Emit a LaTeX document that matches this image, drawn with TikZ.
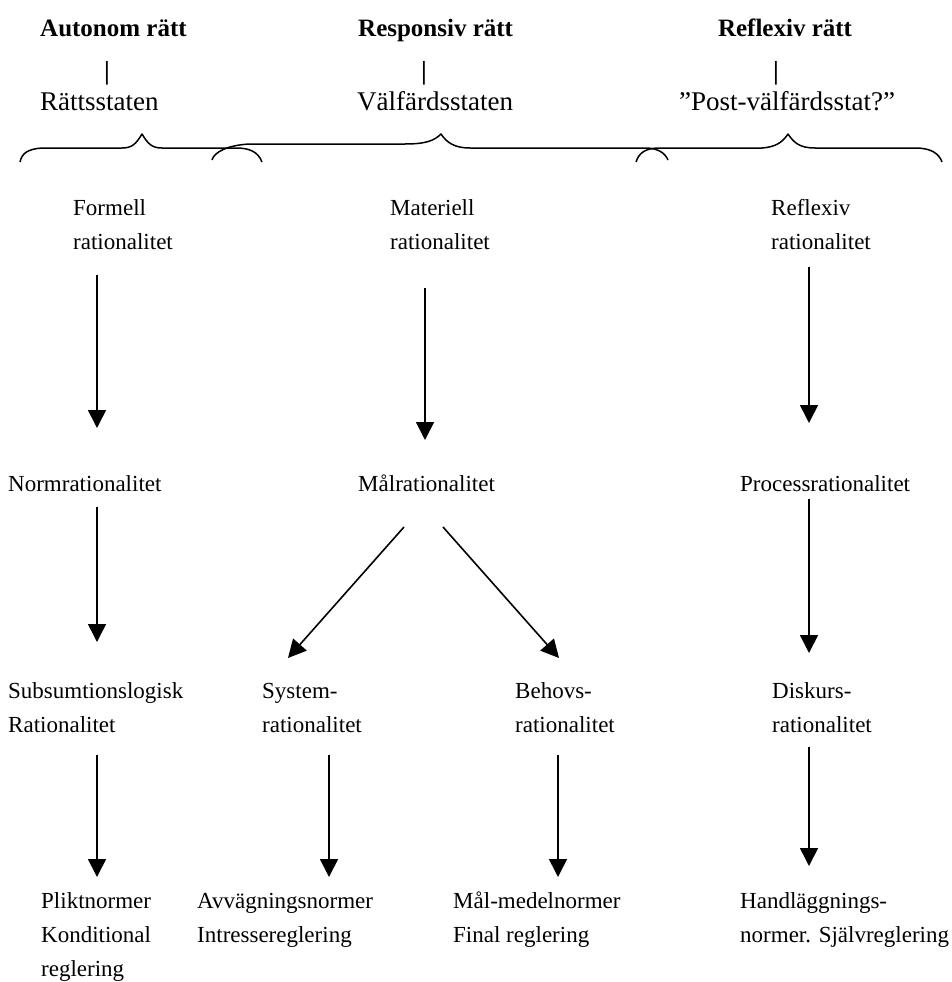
\documentclass[tikz,border=0pt]{standalone}
\usepackage{fontspec}
\setmainfont{Liberation Serif}
\usetikzlibrary{arrows.meta}
\tikzset{
  lbl/.style={anchor=base west, inner sep=0pt, font=\fontsize{23}{34}\selectfont, align=left},
  head/.style={inner sep=0pt, font=\fontsize{25}{28}\selectfont\bfseries},
  sub/.style={inner sep=0pt, font=\fontsize{27}{32}\selectfont},
  bar/.style={anchor=base, inner sep=0pt, font=\fontsize{26}{30}\selectfont\bfseries},
  arr/.style={line width=1.6pt, -{Triangle[width=18pt,length=18pt]}},
  brace/.style={line width=1.5pt, line join=round}
}
\begin{document}
\begin{tikzpicture}[x=1pt,y=-1pt]
\useasboundingbox (0,0) rectangle (952,982);

% top headings
\node[head, anchor=base west] (h1) at (40,37)  {Autonom rätt};
\node[bar]                    (p1) at (107,80) {|};
\node[sub,  anchor=base west] (s1) at (40,110) {Rättsstaten};
\node[head, anchor=base west] (h2) at (358,37) {Responsiv rätt};
\node[bar]                    (p2) at (424,80) {|};
\node[sub,  anchor=base west] (s2) at (357,110) {Välfärdsstaten};
\node[head, anchor=base]      (h3) at (785,37) {Reflexiv rätt};
\node[bar]                    (p3) at (776,80) {|};
\node[sub,  anchor=base]      (s3) at (787,110) {”Post-välfärdsstat?”};

% braces
\draw[brace] (20,162) .. controls (22,153) and (28,149) .. (42,148) -- (122,148)
  .. controls (132,148) and (136,144) .. (142,134)
  .. controls (148,144) and (152,148) .. (162,148) -- (236,148)
  .. controls (250,148) and (258,152) .. (262,162);
\draw[brace] (212,160) .. controls (214,152) and (228,145) .. (250,144) -- (405,144)
  .. controls (425,144) and (434,141) .. (441,134)
  .. controls (447,143) and (455,148) .. (470,148) -- (645,148)
  .. controls (658,148) and (665,153) .. (668,160);
\draw[brace] (636,162) .. controls (639,153) and (645,148) .. (660,148) -- (762,148)
  .. controls (775,147) and (782,143) .. (788,134)
  .. controls (794,143) and (800,148) .. (815,148) -- (915,148)
  .. controls (932,148) and (939,154) .. (942,162);

% body labels (anchor = baseline of the last line)
\node[lbl] (formell)   at (73,249)  {Formell\\rationalitet};
\node[lbl] (materiell) at (390,249) {Materiell\\rationalitet};
\node[lbl] (reflexiv)  at (771,249) {Reflexiv\\rationalitet};
\node[lbl] (norm)      at (8,491)   {Normrationalitet};
\node[lbl] (mal)       at (358,491) {Målrationalitet};
\node[lbl] (process)   at (740,491) {Processrationalitet};
\node[lbl] (subsum)    at (8,732)   {Subsumtionslogisk\\Rationalitet};
\node[lbl] (system)    at (262,732) {System-\\rationalitet};
\node[lbl] (behovs)    at (515,732) {Behovs-\\rationalitet};
\node[lbl] (diskurs)   at (772,732) {Diskurs-\\rationalitet};
\node[lbl] (plikt)     at (41,976)  {Pliktnormer\\Konditional\\reglering};
\node[lbl] (avvag)     at (197,942) {Avvägningsnormer\\Intressereglering};
\node[lbl] (malmedel)  at (453,942) {Mål-medelnormer\\Final reglering};
\node[lbl] (handl)     at (740,942) {Handläggnings-\\normer. Självreglering};

% connector end points
\coordinate (formell-o)  at (97,275);  \coordinate (norm-i)     at (97,428);
\coordinate (materiell-o) at (425,288); \coordinate (mal-i)      at (425,440);
\coordinate (reflexiv-o) at (809,267); \coordinate (process-i)  at (809,423);
\coordinate (norm-o)     at (97,507);  \coordinate (subsum-i)   at (97,642);
\coordinate (mal-ol)     at (404,527); \coordinate (system-i)   at (288,658);
\coordinate (mal-or)     at (443,527); \coordinate (behovs-i)   at (559,658);
\coordinate (process-o)  at (809,499); \coordinate (diskurs-i)  at (809,653);
\coordinate (subsum-o)   at (97,755);  \coordinate (plikt-i)    at (97,877);
\coordinate (system-o)   at (329,755); \coordinate (avvag-i)    at (329,877);
\coordinate (behovs-o)   at (558,755); \coordinate (malmedel-i) at (558,877);
\coordinate (diskurs-o)  at (809,747); \coordinate (handl-i)    at (809,866);

\draw[arr] (formell-o) -- (norm-i);
\draw[arr] (materiell-o) -- (mal-i);
\draw[arr] (reflexiv-o) -- (process-i);
\draw[arr] (norm-o) -- (subsum-i);
\draw[arr] (mal-ol) -- (system-i);
\draw[arr] (mal-or) -- (behovs-i);
\draw[arr] (process-o) -- (diskurs-i);
\draw[arr] (subsum-o) -- (plikt-i);
\draw[arr] (system-o) -- (avvag-i);
\draw[arr] (behovs-o) -- (malmedel-i);
\draw[arr] (diskurs-o) -- (handl-i);
\end{tikzpicture}
\end{document}
